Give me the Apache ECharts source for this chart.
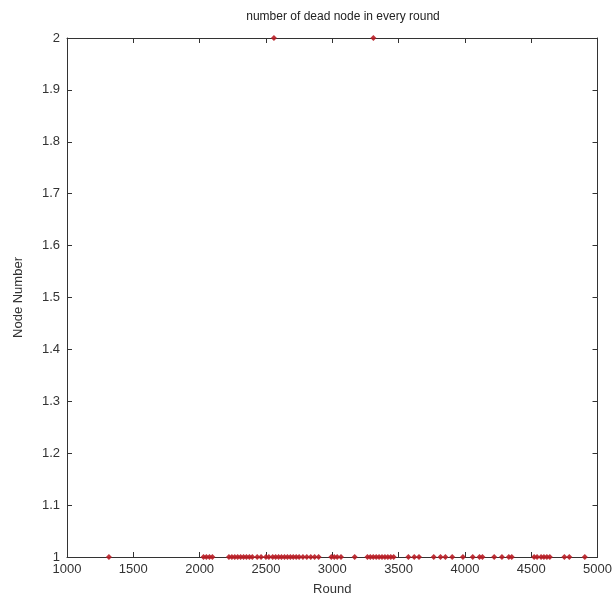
<!DOCTYPE html>
<html>
<head>
<meta charset="utf-8">
<script src="https://cdn.jsdelivr.net/npm/echarts@6/dist/echarts.min.js"></script>
<style>
  html, body { margin: 0; padding: 0; background: #fff; }
  #chart { width: 615px; height: 612px; }
</style>
</head>
<body>
<div id="chart"></div>
<script>
// rounds in which one node died
var roundsOne = [1316, 2029, 2051, 2074, 2096, 2221, 2243, 2265, 2287, 2309, 2331, 2353, 2375, 2397,
    2434, 2463, 2500, 2522, 2551, 2573, 2595, 2617, 2640, 2662, 2684, 2706, 2728, 2750, 2779, 2808,
    2838, 2867, 2897, 2993, 3015, 3037, 3066, 3169, 3265, 3287, 3309, 3331, 3353, 3375, 3397, 3419,
    3441, 3463, 3574, 3618, 3654, 3765, 3816, 3853, 3904, 3985, 4059, 4110, 4132, 4221, 4279, 4331,
    4353, 4522, 4544, 4574, 4596, 4618, 4640, 4750, 4787, 4904];
// rounds in which two nodes died
var roundsTwo = [2560, 3310];

var FONT = '"Liberation Sans Narrow", "Liberation Sans", Arial, sans-serif';

var myChart = echarts.init(document.getElementById('chart'));
var pts = roundsOne.map(r => [r, 1]).concat(roundsTwo.map(r => [r, 2]));

var axisLine = { show: true, lineStyle: { color: '#333', width: 1 } };
var option = {
    animation: false,
    title: {
        text: 'number of dead node in every round',
        left: 338, top: 6, textAlign: 'center',
        textStyle: { fontFamily: FONT, fontSize: 12, fontWeight: 'normal', color: '#222' }
    },
    grid: { left: 67, right: 5, top: 38, bottom: 55 },
    xAxis: [{
        type: 'value', min: 1000, max: 5000, interval: 500,
        name: 'Round', nameLocation: 'middle', nameGap: 26,
        nameTextStyle: { fontFamily: FONT, fontSize: 13, color: '#333' },
        axisLine: axisLine,
        axisTick: { inside: true, length: 5, lineStyle: { color: '#333' } },
        axisLabel: { fontFamily: FONT, fontSize: 13, color: '#333', margin: 6,
            formatter: v => String(v) },
        splitLine: { show: false }
    }, {
        type: 'value', position: 'top', min: 1000, max: 5000, interval: 500,
        axisLine: axisLine,
        axisTick: { inside: true, length: 5, lineStyle: { color: '#333' } },
        axisLabel: { show: false }, splitLine: { show: false }
    }],
    yAxis: [{
        type: 'value', min: 1, max: 2, interval: 0.1,
        name: 'Node Number', nameLocation: 'middle', nameGap: 42,
        nameTextStyle: { fontFamily: FONT, fontSize: 13, color: '#333' },
        axisLine: axisLine,
        axisTick: { show: true, inside: true, length: 5, lineStyle: { color: '#333' } },
        axisLabel: { fontFamily: FONT, fontSize: 13, color: '#333', margin: 7,
            formatter: v => String(Math.round(v * 10) / 10) },
        splitLine: { show: false }
    }, {
        type: 'value', position: 'right', min: 1, max: 2, interval: 0.1,
        axisLine: axisLine,
        axisTick: { show: true, inside: true, length: 5, lineStyle: { color: '#333' } },
        axisLabel: { show: false }, splitLine: { show: false }
    }],
    series: [{
        type: 'scatter',
        data: pts,
        symbol: 'diamond',
        symbolSize: 6,
        itemStyle: { color: '#b81c24', opacity: 0.9 },
        clip: false
    }]
};
myChart.setOption(option);
</script>
</body>
</html>
